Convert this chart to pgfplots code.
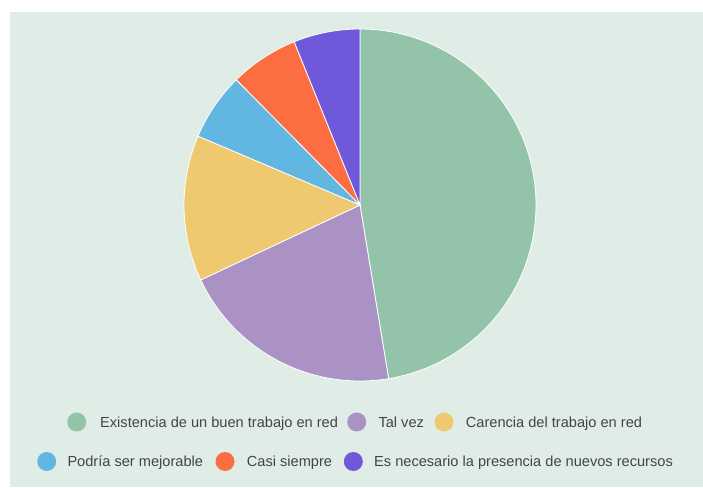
\documentclass[border=0pt]{standalone}
\usepackage{pgfplots}
\pgfplotsset{compat=1.18}
\usepackage{fontspec}
\setmainfont{Liberation Sans}
\definecolor{bg}{HTML}{E0EDE6}
\definecolor{cgreen}{HTML}{93C4AA}
\definecolor{cpurple}{HTML}{AA92C5}
\definecolor{cyellow}{HTML}{EFC970}
\definecolor{cblue}{HTML}{62B6E2}
\definecolor{corange}{HTML}{FC6D42}
\definecolor{cindigo}{HTML}{6F58DA}
\definecolor{txt}{HTML}{444444}
\begin{document}
\begin{tikzpicture}[x=1pt,y=1pt]
\fill[white] (0,0) rectangle (703,487);
\fill[bg] (10,0) rectangle (703,475);
% shares (%): 47.4, 20.6, 13.4, 6.2, 6.3, 6.1  -> angles 3.6 deg per %
\begin{axis}[at={(184pt,106pt)}, anchor=south west, scale only axis,
  width=352pt, height=352pt, xmin=-1, xmax=1, ymin=-1, ymax=1,
  hide axis, clip=false]
\addplot[fill=cgreen, draw=white, line width=0.8pt, domain=90:-80.64, samples=150]
  ({cos(x)},{sin(x)}) -- (0,0) -- cycle;
\addplot[fill=cpurple, draw=white, line width=0.8pt, domain=-80.64:-154.8, samples=80]
  ({cos(x)},{sin(x)}) -- (0,0) -- cycle;
\addplot[fill=cyellow, draw=white, line width=0.8pt, domain=-154.8:-203.04, samples=60]
  ({cos(x)},{sin(x)}) -- (0,0) -- cycle;
\addplot[fill=cblue, draw=white, line width=0.8pt, domain=-203.04:-225.36, samples=40]
  ({cos(x)},{sin(x)}) -- (0,0) -- cycle;
\addplot[fill=corange, draw=white, line width=0.8pt, domain=-225.36:-248.04, samples=40]
  ({cos(x)},{sin(x)}) -- (0,0) -- cycle;
\addplot[fill=cindigo, draw=white, line width=0.8pt, domain=-248.04:-270, samples=40]
  ({cos(x)},{sin(x)}) -- (0,0) -- cycle;
\end{axis}
\begin{scope}[every node/.style={inner sep=0pt, anchor=base west, text=txt, font=\fontsize{14.6}{17}\selectfont}]
\fill[cgreen] (76.7,65) circle (9.5);
\node at (100,60) {Existencia de un buen trabajo en red};
\fill[cpurple] (356.7,65) circle (9.5);
\node at (378.3,60) {Tal vez};
\fill[cyellow] (444,65) circle (9.5);
\node at (465.7,60) {Carencia del trabajo en red};
\fill[cblue] (46.7,25.5) circle (9.5);
\node at (67.3,20.5) {Podría ser mejorable};
\fill[corange] (225,25.5) circle (9.5);
\node at (246.7,20.5) {Casi siempre};
\fill[cindigo] (353.3,25.5) circle (9.5);
\node at (374,20.5) {Es necesario la presencia de nuevos recursos};
\end{scope}
\end{tikzpicture}
\end{document}
